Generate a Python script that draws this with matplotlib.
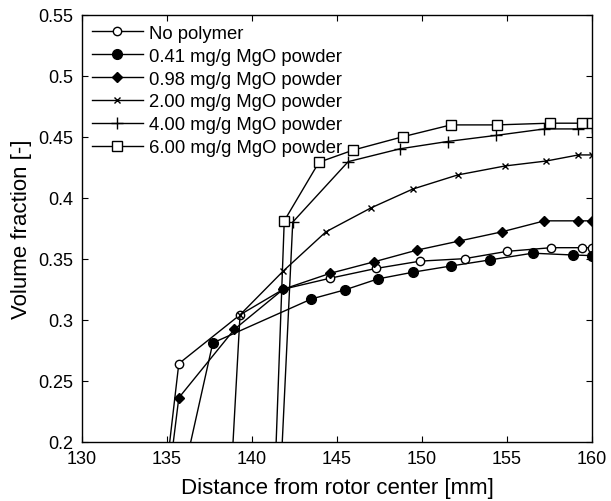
########################################################################
### Volume fraction vs distance from rotor center ###
########################################################################

import matplotlib
matplotlib.use('Agg')
import matplotlib.pyplot as plt

#data (first point of each series lies below the visible range)
x_none = [133.5, 135.7, 139.3, 141.85, 144.6, 147.3, 149.9, 152.5, 155.0, 157.6, 159.4, 160.0]
y_none = [0.0, 0.264, 0.304, 0.325, 0.334, 0.342, 0.348, 0.350, 0.356, 0.359, 0.359, 0.359]

x_041 = [133.2, 137.7, 143.5, 145.5, 147.4, 149.5, 151.7, 154.0, 156.5, 158.9, 160.0]
y_041 = [0.0, 0.281, 0.317, 0.3246, 0.3334, 0.339, 0.344, 0.349, 0.3545, 0.353, 0.3525]

x_098 = [133.6, 135.7, 138.96, 141.85, 144.6, 147.2, 149.7, 152.2, 154.7, 157.2, 159.2, 160.0]
y_098 = [0.0, 0.236, 0.292, 0.325, 0.338, 0.3475, 0.357, 0.3645, 0.372, 0.381, 0.381, 0.381]

x_200 = [138.1, 139.3, 141.85, 144.35, 147.0, 149.45, 152.1, 154.9, 157.3, 159.2, 160.0]
y_200 = [0.0, 0.304, 0.340, 0.372, 0.3916, 0.407, 0.4186, 0.426, 0.430, 0.435, 0.435]

x_400 = [141.1, 142.4, 145.66, 148.7, 151.5, 154.35, 157.2, 159.2, 160.0]
y_400 = [0.0, 0.380, 0.4295, 0.440, 0.446, 0.451, 0.4563, 0.4563, 0.458]

x_600 = [140.9, 141.9, 143.94, 145.96, 148.9, 151.7, 154.4, 157.5, 159.4, 160.0]
y_600 = [0.0, 0.381, 0.429, 0.439, 0.450, 0.4596, 0.4596, 0.461, 0.461, 0.461]

labels = ['No polymer', '0.41 mg/g MgO powder', '0.98 mg/g MgO powder',
          '2.00 mg/g MgO powder', '4.00 mg/g MgO powder', '6.00 mg/g MgO powder']

x_ticks = [130, 135, 140, 145, 150, 155, 160]
y_ticks = [0.2, 0.25, 0.3, 0.35, 0.4, 0.45, 0.5, 0.55]
y_tick_labels = ['0.2', '0.25', '0.3', '0.35', '0.4', '0.45', '0.5', '0.55']

plt.rcParams['font.family'] = ['Liberation Sans', 'DejaVu Sans']

fig = plt.figure(figsize=(6.11, 5.02), dpi=100)
ax = fig.add_axes([0.134, 0.118, 0.835, 0.851])

#plot series
ax.plot(x_none, y_none, color='k', lw=1.0, marker='o', mfc='white', mec='k',
        markersize=6, label=labels[0])
ax.plot(x_041, y_041, color='k', lw=1.0, marker='o', mfc='k', mec='k',
        markersize=7, label=labels[1])
ax.plot(x_098, y_098, color='k', lw=1.0, marker='D', mfc='k', mec='k',
        markersize=5, label=labels[2])
ax.plot(x_200, y_200, color='k', lw=1.0, marker='x', mec='k',
        markersize=5, label=labels[3])
ax.plot(x_400, y_400, color='k', lw=1.0, marker='+', mec='k',
        markersize=8, label=labels[4])
ax.plot(x_600, y_600, color='k', lw=1.0, marker='s', mfc='white', mec='k',
        markersize=7, label=labels[5])

#axes limits and ticks
ax.set_xlim(130, 160)
ax.set_ylim(0.2, 0.55)
ax.set_xticks(x_ticks)
ax.set_yticks(y_ticks)
ax.set_yticklabels(y_tick_labels)
ax.tick_params(direction='in', top=True, right=True, length=4, width=0.8,
               labelsize=13, pad=6)
for sp in ax.spines.values():
    sp.set_linewidth(1.0)

#labels
ax.set_xlabel('Distance from rotor center [mm]', fontsize=16, labelpad=7)
ax.set_ylabel('Volume fraction [-]', fontsize=16, labelpad=5)

#legend (no frame, the axes spines bound it)
leg = ax.legend(loc='upper left', fontsize=13.3, handlelength=2.75, borderaxespad=0,
                frameon=False, borderpad=0.55, labelspacing=0.32, handletextpad=0.35)

fig.savefig('out.png', dpi=100)
